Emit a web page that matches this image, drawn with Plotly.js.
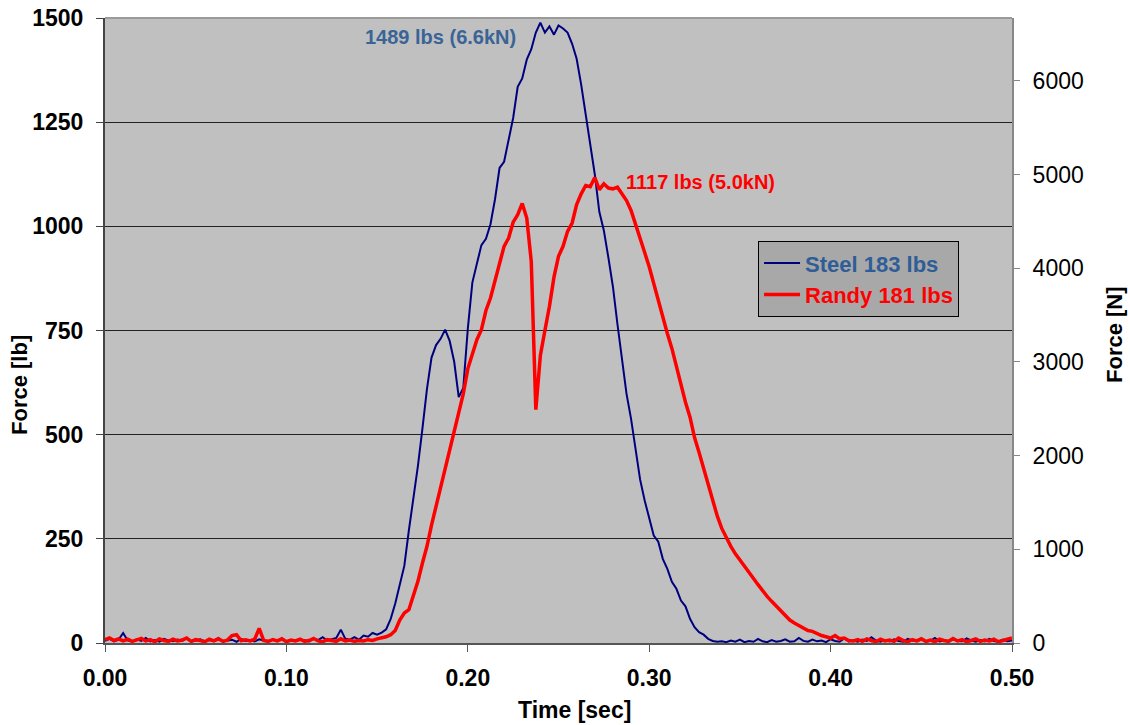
<!DOCTYPE html>
<html>
<head>
<meta charset="utf-8">
<script src="https://cdn.plot.ly/plotly-3.0.1.min.js"></script>
<style>html,body{margin:0;padding:0;background:#fff;}#chart{width:1130px;height:725px;}</style>
</head>
<body>
<div id="chart"></div>
<script>
// Sampling of the recordings (seconds)
const T0 = 0;
const DT = 0.0025;

// Force readings [lb], one value every DT seconds from T0
const steel = [
  5,10,4,8,24,6,3,9,5,12,4,7,3,10,6,4,8,5,11,3,6,9,4,7,5,12,4,6,8,3,
  10,5,7,4,9,6,3,8,5,11,4,7,5,9,6,4,10,7,14,6,9,12,32,10,8,14,
  8,18,15,24,20,25,33,58,95,140,185,270,345,425,515,610,685,715,730,752,
  725,675,590,612,754,865,910,955,970,1005,1065,1140,1155,1205,1260,1335,
  1355,1400,1425,1465,1489,1465,1480,1460,1482,1475,1465,1438,1402,1340,
  1265,1195,1125,1035,990,925,855,765,682,598,538,465,392,342,302,258,
  243,202,178,147,130,102,88,58,38,26,20,10,5,3,
  4,2,6,3,8,2,5,3,10,4,2,7,3,5,9,3,4,12,5,3,8,4,6,2,9,5,3,11,4,6,
  3,8,5,14,6,3,7,4,9,5,3,10,6,4,8,3,5,12,4,6,3,9,5,4,11,6,3,7,4,10,
  5,3,8,4,6
];
const randy = [
  8,12,6,10,5,9,4,7,11,5,8,3,10,6,4,9,5,7,12,4,8,6,3,9,5,10,4,7,18,20,
  6,8,5,9,35,6,4,8,5,10,3,7,5,9,4,6,11,5,3,8,6,4,10,5,7,4,
  6,5,8,6,10,12,15,20,30,55,72,80,112,148,192,232,283,328,375,415,
  462,512,558,598,658,692,728,752,798,828,868,912,952,972,1010,1028,
  1055,1020,915,560,690,750,808,878,928,952,988,1008,1052,1078,1098,1095,
  1117,1088,1102,1092,1090,1094,1078,1062,1038,1002,968,937,903,862,818,782,
  743,707,663,627,578,542,493,457,418,382,338,305,275,252,232,214,
  200,185,170,155,140,125,112,100,88,78,66,55,48,42,35,30,
  28,22,18,15,12,18,10,12,6,
  5,8,4,10,6,3,9,5,7,4,12,6,3,8,5,10,4,7,3,9,6,4,11,5,8,3,6,10,4,7,
  5,9,3,6,8,12
];

const seriesNames = ['Steel 183 lbs', 'Randy 181 lbs'];
const peakLabels = ['1489 lbs (6.6kN)', '1117 lbs (5.0kN)'];
const peakTimes = [0.24, 0.27];
const peakValues = [1489, 1117];
const axisTitles = {x: 'Time [sec]', yLeft: 'Force [lb]', yRight: 'Force [N]'};

const xTicks = [0, 0.1, 0.2, 0.3, 0.4, 0.5];
const yTicksLb = [0, 250, 500, 750, 1000, 1250, 1500];
const yTicksN = [0, 1000, 2000, 3000, 4000, 5000, 6000];
const LB_TO_N = 4.44822;
const LB_MAX = 1500;

const FONT = 'Liberation Sans, Arial, sans-serif';
const BLUE_TXT = '#2f5d97';
const W = 1130, H = 725;
const M = {l: 105, r: 118, t: 18, b: 82};

// paper-coordinate helpers for pixel placement of titles
const px = v => (v - M.l) / (W - M.l - M.r);
const py = v => (H - M.b - v) / (H - M.t - M.b);

const traces = [
  {
    type: 'scatter', mode: 'lines', x0: T0, dx: DT, y: steel,
    name: '<span style="color:' + BLUE_TXT + '">' + seriesNames[0] + '</span>',
    line: {color: '#00007f', width: 2}, hoverinfo: 'skip'
  },
  {
    type: 'scatter', mode: 'lines', x0: T0, dx: DT, y: randy,
    name: '<span style="color:#ff0000">' + seriesNames[1] + '</span>',
    line: {color: '#ff0000', width: 3.5}, hoverinfo: 'skip'
  },
  {
    type: 'scatter', mode: 'markers', x: [0], y: [0], yaxis: 'y2',
    marker: {opacity: 0}, showlegend: false, hoverinfo: 'skip'
  }
];

const titleFont = {size: 22, family: FONT, weight: 'bold', color: '#000'};

const layout = {
  width: W, height: H,
  margin: M,
  paper_bgcolor: '#ffffff',
  plot_bgcolor: '#c0c0c0',
  font: {family: FONT, color: '#000'},
  showlegend: true,
  legend: {
    x: 0.72, y: 0.643, xanchor: 'left', yanchor: 'top',
    bgcolor: '#a8a8a8', bordercolor: '#000', borderwidth: 1,
    font: {size: 22, family: FONT, weight: 'bold'},
    itemwidth: 36
  },
  xaxis: {
    range: [0, 0.5], tickvals: xTicks, tickformat: '.2f',
    showgrid: false, zeroline: false,
    showline: true, linecolor: '#555', linewidth: 2,
    ticks: 'outside', ticklen: 7, tickcolor: '#555', tickwidth: 1,
    tickfont: {size: 23, family: FONT, weight: 'bold'},
    ticklabelstandoff: 6
  },
  yaxis: {
    range: [0, LB_MAX], tickvals: yTicksLb,
    showgrid: true, gridcolor: '#222', gridwidth: 1.2, zeroline: false,
    showline: true, linecolor: '#444', linewidth: 2,
    ticks: 'outside', ticklen: 7, tickcolor: '#444', tickwidth: 1,
    tickfont: {size: 23, family: FONT, weight: 'bold'},
    ticklabelstandoff: 8
  },
  yaxis2: {
    overlaying: 'y', side: 'right', anchor: 'x',
    range: [0, LB_MAX * LB_TO_N], tickvals: yTicksN,
    showgrid: false, zeroline: false,
    showline: true, linecolor: '#888', linewidth: 2,
    ticks: 'outside', ticklen: 6, tickcolor: '#888', tickwidth: 1,
    tickfont: {size: 23, family: FONT},
    ticklabelstandoff: 8
  },
  shapes: [
    {type: 'line', xref: 'paper', yref: 'paper', x0: 0, x1: 1, y0: 1, y1: 1,
     line: {color: '#9a9a9a', width: 2}, layer: 'above'}
  ],
  annotations: [
    {x: peakTimes[0], y: peakValues[0], xref: 'x', yref: 'y', text: peakLabels[0],
     showarrow: false, xanchor: 'right', yanchor: 'middle', xshift: -22, yshift: -14,
     font: {size: 20, family: FONT, weight: 'bold', color: '#3a6496'}},
    {x: peakTimes[1], y: peakValues[1], xref: 'x', yref: 'y', text: peakLabels[1],
     showarrow: false, xanchor: 'left', yanchor: 'middle', xshift: 29, yshift: -4,
     font: {size: 20, family: FONT, weight: 'bold', color: '#ff0000'}},
    {x: px(574), y: py(710), xref: 'paper', yref: 'paper', text: axisTitles.x,
     showarrow: false, xanchor: 'center', yanchor: 'middle',
     font: Object.assign({}, titleFont, {size: 23})},
    {x: px(20), y: py(385), xref: 'paper', yref: 'paper', text: axisTitles.yLeft,
     showarrow: false, xanchor: 'center', yanchor: 'middle', textangle: -90,
     font: titleFont},
    {x: px(1114), y: py(335), xref: 'paper', yref: 'paper', text: axisTitles.yRight,
     showarrow: false, xanchor: 'center', yanchor: 'middle', textangle: -90,
     font: titleFont}
  ]
};

Plotly.newPlot('chart', traces, layout, {staticPlot: true, displayModeBar: false});
</script>
</body>
</html>
